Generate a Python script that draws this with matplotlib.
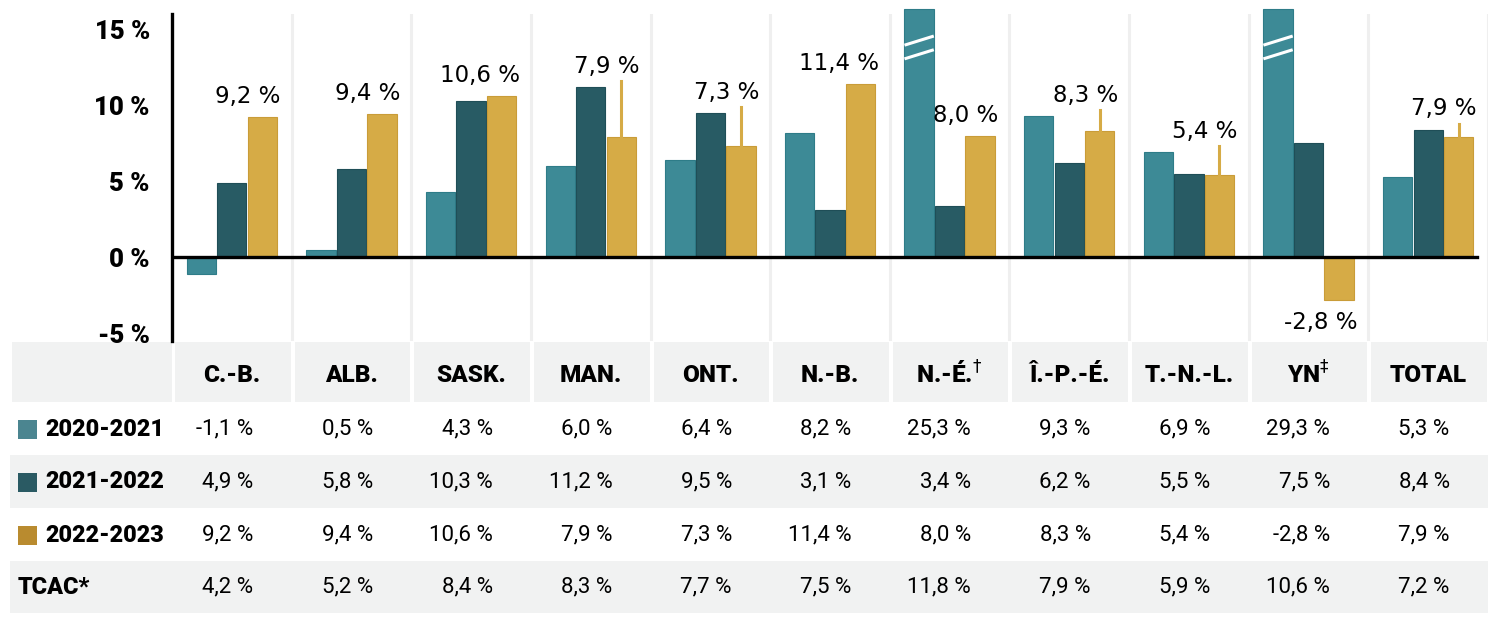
import matplotlib
matplotlib.use("Agg")
import matplotlib.pyplot as plt
import matplotlib.transforms as mtransforms
from matplotlib.patches import Rectangle

# données
regions = ["C.-B.", "ALB.", "SASK.", "MAN.", "ONT.", "N.-B.", r"N.-É.$^{\dagger}$",
           "Î.-P.-É.", "T.-N.-L.", r"YN$^{\ddagger}$", "TOTAL"]
series_names = ["2020-2021", "2021-2022", "2022-2023"]
s2021 = [-1.1, 0.5, 4.3, 6.0, 6.4, 8.2, 25.3, 9.3, 6.9, 29.3, 5.3]
s2022 = [4.9, 5.8, 10.3, 11.2, 9.5, 3.1, 3.4, 6.2, 5.5, 7.5, 8.4]
s2023 = [9.2, 9.4, 10.6, 7.9, 7.3, 11.4, 8.0, 8.3, 5.4, -2.8, 7.9]
tcac = [4.2, 5.2, 8.4, 8.3, 7.7, 7.5, 11.8, 7.9, 5.9, 10.6, 7.2]
yticks = [-5, 0, 5, 10, 15]

bar_colors = ["#3d8a96", "#285b64", "#d6ab46"]
edge_colors = ["#2e7c88", "#1f4e57", "#c99c38"]
legend_colors = ["#4b8590", "#2a5a63", "#b98b2f"]
grey = "#f1f2f2"

W, H = 1500, 624
fig = plt.figure(figsize=(15, 6.24), dpi=100)

left_px, right_px, top_px, bot_px = 172, 1488, 14, 341
ax = fig.add_axes([left_px / W, 1 - bot_px / H, (right_px - left_px) / W, (bot_px - top_px) / H])

n = len(regions)
ymax = 16.0
ax.set_xlim(-0.5, n - 0.5)
ax.set_ylim(-5.5, ymax)

for x in range(n):
    ax.axvline(x + 0.5, color="#efefef", lw=2.2, zorder=0)

bw = 0.245
offs = [-0.255, 0, 0.255]
for k, vals in enumerate([s2021, s2022, s2023]):
    for i, v in enumerate(vals):
        h = min(v, ymax + 0.3)
        ax.bar(i + offs[k], h, bw, color=bar_colors[k], edgecolor=edge_colors[k],
               linewidth=0.8, clip_on=False, zorder=2)
        if v > ymax:
            # marque de coupure
            x0, x1 = i + offs[k] - bw / 2, i + offs[k] + bw / 2
            for y0 in (13.95, 13.05):
                ax.plot([x0, x1], [y0, y0 + 0.6], color="white", lw=2.2,
                        solid_capstyle="butt", zorder=3, clip_on=False)

# étiquettes 2022-2023
for i, v in enumerate(s2023):
    xg = i + offs[2]
    txt = f"{v:.1f}".replace(".", ",") + " %"
    if v < 0:
        ax.text(xg + bw / 2 + 0.03, v - 0.75, txt, ha="right", va="top",
                fontsize=16.5, family="DejaVu Sans", zorder=4)
        continue
    cands = [c for c in (s2021[i], s2022[i], v) if c < ymax]
    anchor = max(cands)
    if anchor > v:
        ax.plot([xg, xg], [v, anchor + 0.4], color=bar_colors[2], lw=2.2, zorder=2)
    ax.text(xg + bw / 2 + 0.03, anchor + 0.6, txt, ha="right", va="bottom",
            fontsize=16.5, family="DejaVu Sans", zorder=4)

ax.axhline(0, color="black", lw=2.4, xmax=1 - 11 / (right_px - left_px), zorder=5)

for s in ["top", "right", "bottom"]:
    ax.spines[s].set_visible(False)
ax.spines["left"].set_linewidth(2.4)
ax.set_xticks([])
ax.set_yticks(yticks)
ax.set_yticklabels([f"{t} %" for t in yticks], fontsize=18.5, fontweight="heavy",
                   family="Roboto")
ax.tick_params(axis="y", length=0, pad=16)


# tableau
def rect(x0, y0, x1, y1, color):
    fig.add_artist(Rectangle((x0 / W, 1 - y1 / H), (x1 - x0) / W, (y1 - y0) / H,
                             transform=fig.transFigure, color=color, lw=0, zorder=0))


pitch = (right_px - left_px) / n
rect(12, 342, 172, 402, grey)
for i in range(n):
    rect(left_px + i * pitch + 3, 342, left_px + (i + 1) * pitch - 1, 402, grey)
rect(10, 455, right_px, 508, grey)
rect(10, 561, right_px, 613, grey)

blend = mtransforms.blended_transform_factory(ax.transData, fig.transFigure)
for i, r in enumerate(regions):
    fig.text(i, 1 - 375 / H, r, transform=blend, ha="center", va="center",
             fontsize=17.5, fontweight="heavy", family="Roboto")

row_y = [429, 482, 535, 587]
rows = [s2021, s2022, s2023, tcac]
for j, vals in enumerate(rows):
    y = 1 - row_y[j] / H
    if j < 3:
        rect(18, row_y[j] - 9.5, 37, row_y[j] + 9.5, legend_colors[j])
        fig.text(45 / W, y, series_names[j], ha="left", va="center",
                 fontsize=16.8, fontweight="heavy", family="Roboto")
    else:
        fig.text(18 / W, y, "TCAC*", ha="left", va="center",
                 fontsize=16.8, fontweight="heavy", family="Roboto")
    for i, v in enumerate(vals):
        fig.text(i + 0.18, y, f"{v:.1f}".replace(".", ",") + " %", transform=blend,
                 ha="right", va="center", fontsize=16, family="Roboto")

fig.savefig("out.png", dpi=100)
